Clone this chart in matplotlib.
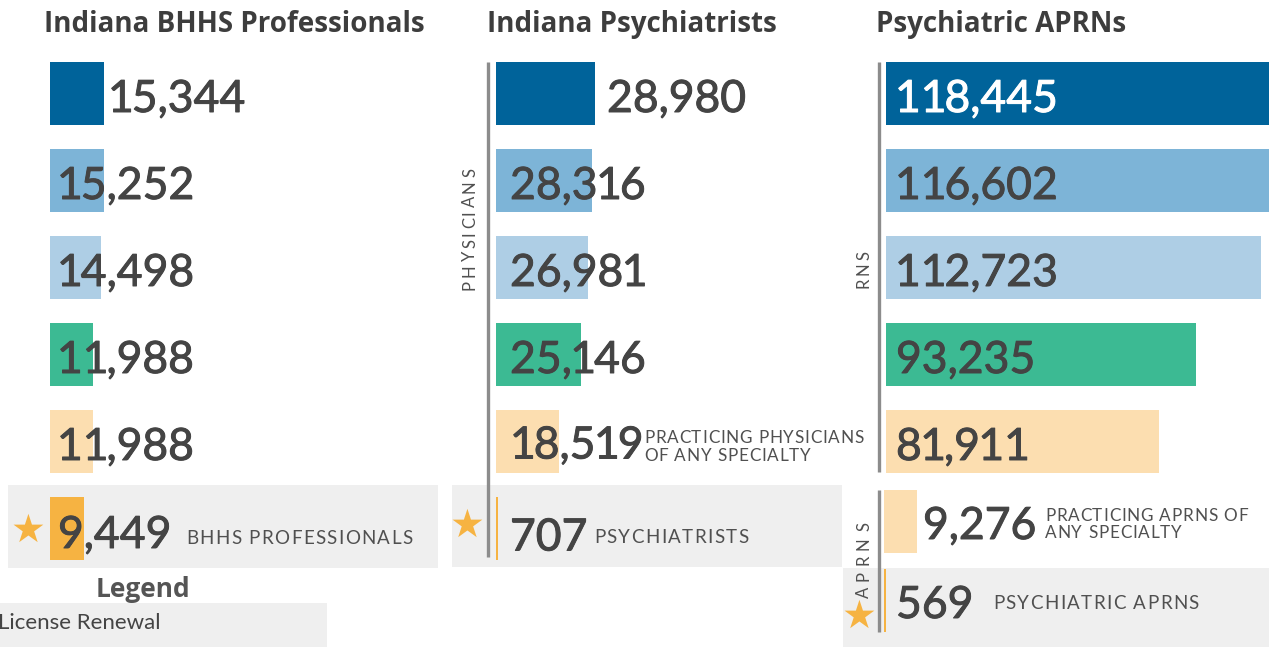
import numpy as np
import matplotlib
matplotlib.use("Agg")
import matplotlib.pyplot as plt
import matplotlib.patheffects as pe
from matplotlib.patches import Rectangle
from matplotlib.font_manager import FontProperties

# ---------------------------------------------------------------------------
# Data
# ---------------------------------------------------------------------------
bhhs_values = [15344, 15252, 14498, 11988, 11988, 9449]
psych_values = [28980, 28316, 26981, 25146, 18519, 707]
rn_values = [118445, 116602, 112723, 93235, 81911]
aprn_values = [9276, 569]

panel_titles = ["Indiana BHHS Professionals", "Indiana Psychiatrists", "Psychiatric APRNs"]
bhhs_note = "BHHS PROFESSIONALS"
psych_notes = [["PRACTICING PHYSICIANS", "OF ANY SPECIALTY"], ["PSYCHIATRISTS"]]
aprn_notes = [["PRACTICING APRNS OF", "ANY SPECIALTY"], ["PSYCHIATRIC APRNS"]]
side_labels = ["PHYSICIANS", "RNS", "APRNS"]
legend_title = "Legend"
legend_item = "License Renewal"

# ---------------------------------------------------------------------------
# Style
# ---------------------------------------------------------------------------
W, H = 1269, 647
DARK = "#00639a"
MID = "#7db4d7"
LIGHT = "#aecee5"
GREEN = "#3cba93"
PEACH = "#fcdeb0"
ORANGE = "#f6b342"
GRAY_BOX = "#efefef"
AXIS_GRAY = "#8c8c8c"
TXT = "#444444"
SMALL_TXT = "#505050"
row_colors = [DARK, MID, LIGHT, GREEN, PEACH, ORANGE]

NUM_FONT = ["Lato", "DejaVu Sans"]
HEAD_FONT = ["Open Sans", "DejaVu Sans"]
plt.rcParams["font.family"] = NUM_FONT
NUM_PROP = FontProperties(family="Lato", size=32)
ONE_TRIM = (1.5, 2.0)   # px taken off either side of a "1" (proportional figures)

fig = plt.figure(figsize=(W / 100, H / 100), dpi=100)
renderer = fig.canvas.get_renderer()

# background axes in pixel coordinates (boxes, rules, text)
bg = fig.add_axes([0, 0, 1, 1], zorder=0)
bg.set_xlim(0, W)
bg.set_ylim(H, 0)
bg.axis("off")


def px_axes(x0, x1, y0, y1):
    ax = fig.add_axes([x0 / W, 1 - y1 / H, (x1 - x0) / W, (y1 - y0) / H], zorder=2)
    ax.patch.set_alpha(0)
    ax.axis("off")
    return ax


def box(x0, y0, x1, y1):
    bg.add_patch(Rectangle((x0, y0), x1 - x0, y1 - y0, color=GRAY_BOX, lw=0))


def ink_width(s, prop):
    return renderer.get_text_width_height_descent(s, prop, ismath=False)[0]


def tracked(x, y, s, size, track, rotate=False, color=SMALL_TXT):
    """Letter-spaced text: each glyph placed on its own, `track` px apart extra."""
    prop = FontProperties(family="Lato", size=size)
    total = ink_width(s, prop) + track * (len(s) - 1)
    for k, ch in enumerate(s):
        if ch == " ":
            continue
        off = ink_width(s[:k + 1], prop) - ink_width(ch, prop) + k * track
        if rotate:
            bg.text(x, y + total / 2 - off, ch, rotation=90, fontproperties=prop,
                    color=color, ha="center", va="bottom")
        else:
            bg.text(x + off, y, ch, fontproperties=prop, color=color,
                    ha="left", va="baseline")


def number_label(ax, i, v, dx, dy, color):
    s = f"{v:,}"
    shift = 0.0
    for k, ch in enumerate(s):
        off = ink_width(s[:k + 1], NUM_PROP) - ink_width(ch, NUM_PROP)
        if ch == "1" and k > 0 and s[k - 1] != "1":
            shift -= ONE_TRIM[0]
        ax.annotate(ch, xy=(0, i), xytext=((dx + off + shift) * 0.72, -dy * 0.72),
                    textcoords="offset points", ha="left", va="baseline",
                    fontproperties=NUM_PROP, color=color, annotation_clip=False,
                    path_effects=[pe.withStroke(linewidth=0.7, foreground=color)])
        if ch == "1" and k + 1 < len(s) and s[k + 1] != "1":
            shift -= ONE_TRIM[1]


def bars(ax, values, colors, scale, width_px, height, label_dx, label_dy, label_colors=None):
    n = len(values)
    ax.barh(np.arange(n), values, height=height, color=colors, left=0)
    ax.set_xlim(0, width_px / scale)
    ax.set_ylim(n - 0.5, -0.5)
    for i, v in enumerate(values):
        c = TXT if label_colors is None else label_colors[i]
        number_label(ax, i, v, label_dx[i], label_dy[i], c)


# gray highlight boxes
box(8, 485, 438, 568)
box(452, 485, 842, 567)
box(843, 568, W, H)
box(0, 603, 327, H)

# vertical rules
bg.plot([488, 488], [62, 557], color=AXIS_GRAY, lw=2.4, solid_capstyle="butt")
bg.plot([879, 879], [62, 472], color=AXIS_GRAY, lw=2.4, solid_capstyle="butt")
bg.plot([879, 879], [490, 632], color=AXIS_GRAY, lw=2.4, solid_capstyle="butt")

# titles
for x, t in zip([44, 487, 876], panel_titles):
    bg.text(x, 32, t, fontsize=20, fontweight="bold", color="#3d3d3d", ha="left",
            va="baseline", family=HEAD_FONT)

# panel 1: BHHS
ax1 = px_axes(50, 438, 50, 572)
bars(ax1, bhhs_values, row_colors, 0.00355, 388, 63 / 87,
     label_dx=[58, 7, 7, 7, 7, 8], label_dy=[18.5, 18.5, 18.5, 18.5, 18.5, 19.5])
tracked(186, 544, bhhs_note, 13.5, 1.35)

# panel 2: psychiatrists
ax2 = px_axes(496, 842, 50, 572)
bars(ax2, psych_values, row_colors, 0.00340, 346, 63 / 87,
     label_dx=[111, 14, 14, 14, 14, 14], label_dy=[18.5, 18.5, 18.5, 18.5, 17, 22])
tracked(644, 443, psych_notes[0][0], 12.3, 0.8)
tracked(644, 461, psych_notes[0][1], 12.3, 0.8)
tracked(594, 543, psych_notes[1][0], 13.5, 1.35)

# panel 3: RNs and APRNs
ax3 = px_axes(886, W, 50, 485)
bars(ax3, rn_values, row_colors[:5], 0.00333, W - 886, 63 / 87,
     label_dx=[9, 9, 9, 10, 10], label_dy=[18.5] * 5,
     label_colors=["white", TXT, TXT, TXT, TXT])
ax4 = px_axes(884, W, 482, 640)
bars(ax4, aprn_values, [PEACH, ORANGE], 0.00356, W - 884, 63 / 79,
     label_dx=[39, 12], label_dy=[17.5, 17.5])
tracked(1045, 521, aprn_notes[0][0], 12.3, 0.8)
tracked(1045, 538, aprn_notes[0][1], 12.3, 0.8)
tracked(993, 609, aprn_notes[1][0], 13.5, 1.35)

# side labels
tracked(470, 229, side_labels[0], 12, 2.9, rotate=True)
tracked(864, 269, side_labels[1], 12, 2.5, rotate=True)
tracked(864, 560, side_labels[2], 12, 5.5, rotate=True)

# stars
for x, y in [(28, 531), (467, 526), (859, 617)]:
    bg.text(x, y, "\u2605", fontsize=28, color=ORANGE, ha="center", va="center",
            family="DejaVu Sans")

# legend
bg.text(96, 597, legend_title, fontsize=19, fontweight="bold", color="#555555",
        ha="left", va="baseline", family=HEAD_FONT)
bg.text(-2, 629, legend_item, fontsize=16, color=TXT, ha="left", va="baseline")

fig.savefig("out.png", dpi=100)
